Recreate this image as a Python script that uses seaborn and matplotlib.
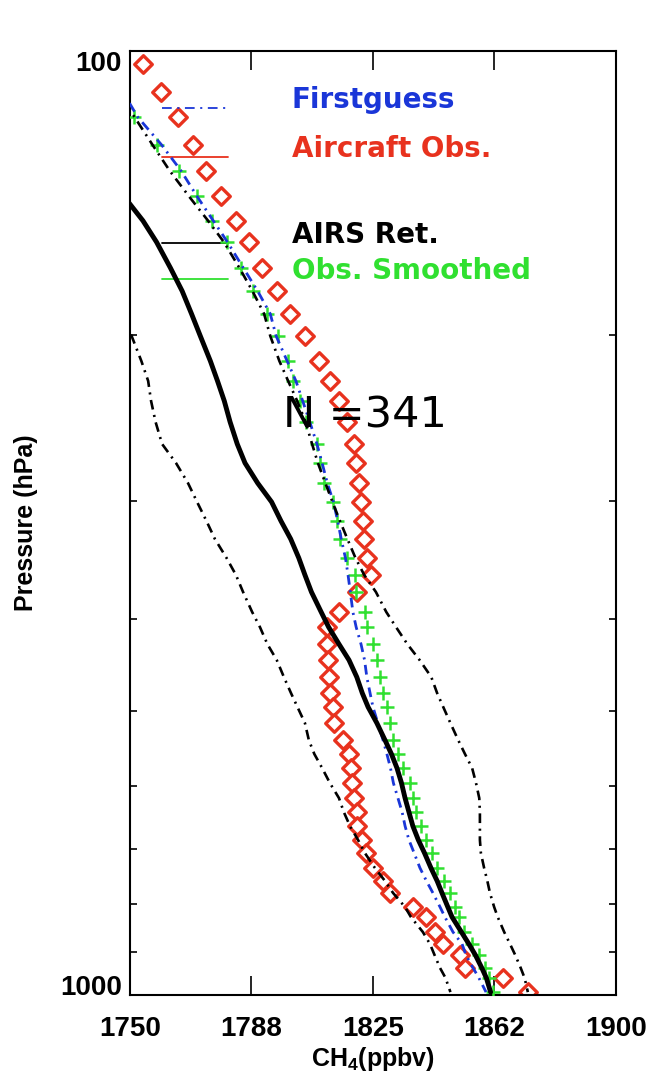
import numpy as np
import matplotlib
matplotlib.use("Agg")
import matplotlib.pyplot as plt
from matplotlib.ticker import FixedLocator, FixedFormatter, NullFormatter, NullLocator
import seaborn as sns

# Pressure levels (hPa) shared by all profiles
pressure = [103.2, 110.5, 117.5, 125.8, 134.0, 142.4, 151.3, 159.4, 169.8, 179.6,
            189.9, 200.4, 213.0, 223.6, 234.8, 247.2, 260.8, 273.2, 286.9, 300.4,
            314.7, 328.8, 344.4, 359.0, 374.2, 392.9, 407.6, 424.9, 441.8, 460.5,
            478.9, 495.5, 515.2, 537.0, 555.6, 574.9, 596.3, 618.6, 640.1, 662.2,
            685.2, 707.3, 733.6, 757.2, 779.7, 806.9, 826.8, 857.7, 883.1, 907.1,
            936.3, 959.4, 993.0]

# CH4 profiles (ppbv)
aircraft_obs = [1754.1, 1759.5, 1764.9, 1769.5, 1773.5, 1778.0, 1782.6, 1786.7, 1790.8, 1795.3,
                1799.4, 1804.0, 1808.3, 1811.7, 1814.6, 1816.9, 1819.2, 1819.7, 1820.7, 1821.3,
                1822.0, 1822.3, 1823.3, 1824.5, 1820.1, 1814.6, 1810.7, 1810.9, 1811.0, 1811.4,
                1811.7, 1812.6, 1813.0, 1815.8, 1817.7, 1818.2, 1818.4, 1819.1, 1820.0, 1820.2,
                1821.5, 1822.8, 1825.1, 1828.0, 1830.2, 1837.4, 1841.4, 1844.1, 1846.5, 1851.9,
                1853.4, 1865.2, 1872.9]

obs_smoothed = [1740.5, 1746.0, 1751.3, 1758.2, 1765.1, 1770.6, 1775.2, 1779.8, 1784.2, 1788.1,
                1792.3, 1795.8, 1798.9, 1800.4, 1802.4, 1804.4, 1807.6, 1808.6, 1809.8, 1812.7,
                1813.8, 1814.8, 1817.0, 1819.4, 1819.9, 1822.5, 1823.1, 1825.1, 1826.1, 1827.2,
                1828.2, 1829.2, 1830.2, 1831.3, 1832.8, 1834.3, 1836.4, 1837.4, 1838.3, 1839.8,
                1841.5, 1843.1, 1844.9, 1846.9, 1848.8, 1850.3, 1851.4, 1853.1, 1855.6, 1857.7,
                1859.6, 1860.8, 1862.0]

first_guess = [1742.6, 1747.8, 1752.4, 1759.8, 1765.8, 1770.6, 1775.7, 1780.1, 1785.0, 1789.4,
               1793.3, 1795.1, 1798.5, 1801.2, 1803.3, 1805.5, 1807.7, 1809.3, 1810.9, 1812.8,
               1814.1, 1815.2, 1816.5, 1817.3, 1818.0, 1818.8, 1819.8, 1821.3, 1822.4, 1823.1,
               1824.1, 1825.0, 1826.5, 1828.1, 1829.3, 1830.4, 1831.3, 1832.7, 1834.0, 1834.9,
               1836.1, 1837.7, 1839.5, 1841.5, 1843.5, 1845.7, 1847.2, 1849.7, 1852.5, 1853.7,
               1855.9, 1857.7, 1859.9]

nan = np.nan
airs_ret = [nan, nan, nan, nan, nan, 1748.0, 1754.0, 1758.2, 1762.5, 1766.1,
            1769.0, 1771.7, 1774.8, 1777.0, 1779.1, 1780.9, 1783.1, 1785.5, 1789.4, 1793.7,
            1796.6, 1799.6, 1802.1, 1804.0, 1806.0, 1809.0, 1811.3, 1814.5, 1817.6, 1820.0,
            1821.7, 1823.5, 1826.2, 1828.7, 1830.7, 1832.4, 1833.8, 1834.9, 1836.1, 1837.3,
            1839.0, 1840.9, 1842.9, 1844.8, 1846.3, 1848.1, 1849.4, 1852.3, 1854.6, 1856.6,
            1858.6, 1860.0, 1861.3]

ret_lower = [nan, nan, nan, nan, nan, nan, nan, nan, nan, nan,
             1747.2, 1750.5, 1753.5, 1755.6, 1756.5, 1757.9, 1759.9, 1764.2, 1767.9, 1770.7,
             1773.6, 1776.2, 1779.8, 1782.7, 1784.9, 1787.7, 1790.1, 1792.4, 1795.3, 1797.5,
             1799.7, 1801.7, 1804.0, 1805.2, 1806.9, 1809.3, 1811.7, 1814.5, 1816.0, 1817.9,
             1820.4, 1822.5, 1825.6, 1828.7, 1831.2, 1834.9, 1836.7, 1840.4, 1842.6, 1844.0,
             1845.7, 1847.4, 1848.9]

ret_upper = [1740.7, 1746.4, 1751.4, 1757.0, 1762.3, 1768.1, 1774.1, 1779.0, 1783.8, 1787.8,
             1791.4, 1793.3, 1796.1, 1798.8, 1801.6, 1804.2, 1806.2, 1808.0, 1810.3, 1812.5,
             1814.8, 1817.1, 1819.6, 1822.3, 1825.9, 1829.1, 1832.1, 1835.6, 1839.4, 1843.0,
             1844.8, 1846.7, 1848.9, 1851.3, 1853.4, 1855.6, 1856.8, 1857.8, 1858.0, 1858.0,
             1858.0, 1858.3, 1859.3, 1860.3, 1861.1, 1862.4, 1863.5, 1865.5, 1867.3, 1868.9,
             1870.6, 1871.8, 1872.8]

x_ticks = [1750, 1787.5, 1825, 1862.5, 1900]
x_tick_labels = ["1750", "1788", "1825", "1862", "1900"]
y_ticks = [100, 1000]
y_tick_labels = ["100", "1000"]
y_minor = [200, 300, 400, 500, 600, 700, 800, 900]

legend_labels = ["Firstguess", "Aircraft Obs.", "AIRS Ret.", "Obs. Smoothed"]
sample_text = "N =341"

RED = "#e8321e"
BLUE = "#1a36d8"
GREEN = "#30e030"
BLACK = "#000000"

sns.set_theme(style="ticks")
plt.rcParams["font.family"] = ["Liberation Sans", "DejaVu Sans"]
plt.rcParams["lines.scale_dashes"] = False
plt.rcParams["mathtext.fontset"] = "custom"
plt.rcParams["mathtext.rm"] = "Liberation Sans:bold"
plt.rcParams["mathtext.it"] = "Liberation Sans:bold"
plt.rcParams["mathtext.bf"] = "Liberation Sans:bold"

fig = plt.figure(figsize=(6.51, 10.78), dpi=100)
ax = fig.add_axes([0.1997, 0.0770, 0.7465, 0.8757])
ax.set_yscale("log")

dashdot = (0, (7, 4, 1.5, 4))

# aircraft profile: open diamonds
sns.scatterplot(x=aircraft_obs, y=pressure, ax=ax, marker="D", s=80,
                color="white", edgecolor=RED, linewidth=2.4, zorder=2)
# smoothed observations: plus markers
sns.scatterplot(x=obs_smoothed, y=pressure, ax=ax, marker="+", s=95,
                color=GREEN, linewidth=1.8, zorder=3)
# first guess
sns.lineplot(x=first_guess, y=pressure, ax=ax, sort=False, estimator=None,
             color=BLUE, lw=2.0, linestyle=dashdot, zorder=4)
# retrieval uncertainty envelope
sns.lineplot(x=ret_upper, y=pressure, ax=ax, sort=False, estimator=None,
             color=BLACK, lw=1.9, linestyle=dashdot, zorder=4)
sns.lineplot(x=ret_lower, y=pressure, ax=ax, sort=False, estimator=None,
             color=BLACK, lw=1.9, linestyle=dashdot, zorder=4)
# AIRS retrieval
sns.lineplot(x=airs_ret, y=pressure, ax=ax, sort=False, estimator=None,
             color=BLACK, lw=3.5, zorder=5)

ax.set_xlim(1750, 1900)
ax.set_ylim(1000, 100)

ax.xaxis.set_major_locator(FixedLocator(x_ticks))
ax.xaxis.set_major_formatter(FixedFormatter(x_tick_labels))
ax.xaxis.set_minor_locator(NullLocator())
ax.yaxis.set_major_locator(FixedLocator(y_ticks))
ax.yaxis.set_major_formatter(FixedFormatter(y_tick_labels))
ax.yaxis.set_minor_locator(FixedLocator(y_minor))
ax.yaxis.set_minor_formatter(NullFormatter())

ax.tick_params(axis="both", which="both", direction="in", top=True, right=True,
               color="black", width=1.2, labelcolor="black")
ax.tick_params(axis="x", which="major", length=14, pad=15, labelsize=20)
ax.tick_params(axis="y", which="major", length=5, pad=6, labelsize=20)
ax.tick_params(axis="y", which="minor", length=5)

for lbl in ax.get_xticklabels() + ax.get_yticklabels():
    lbl.set_fontweight("bold")
ylbls = ax.get_yticklabels()
ylbls[0].set_va("top")
ylbls[1].set_va("baseline")

for sp in ax.spines.values():
    sp.set_color("black")
    sp.set_linewidth(1.5)

ax.set_xlabel(r"CH$_4$(ppbv)", fontsize=18, fontweight="bold", color="black")
ax.set_ylabel("Pressure (hPa)", fontsize=18, fontweight="bold", color="black")
ax.xaxis.set_label_coords(0.5, -0.053)
ax.yaxis.set_label_coords(-0.19, 0.50)

# legend keys and labels
key_x = [0.066, 0.202]
leg_y = [0.940, 0.888, 0.797, 0.758]
leg_colors = [BLUE, RED, BLACK, GREEN]
leg_styles = [dashdot, "-", "-", "-"]
for label, yy, col, ls in zip(legend_labels, leg_y, leg_colors, leg_styles):
    ax.plot(key_x, [yy, yy], transform=ax.transAxes, color=col, lw=1.3,
            linestyle=ls, clip_on=False)
    ax.text(0.333, yy, label, transform=ax.transAxes, color=col, fontsize=20,
            fontweight="bold", family="DejaVu Sans", ha="left", va="baseline")

ax.text(0.315, 0.601, sample_text, transform=ax.transAxes, color="black",
        fontsize=31, family="DejaVu Sans", ha="left", va="baseline", zorder=6)

fig.savefig("out.png", dpi=100)
